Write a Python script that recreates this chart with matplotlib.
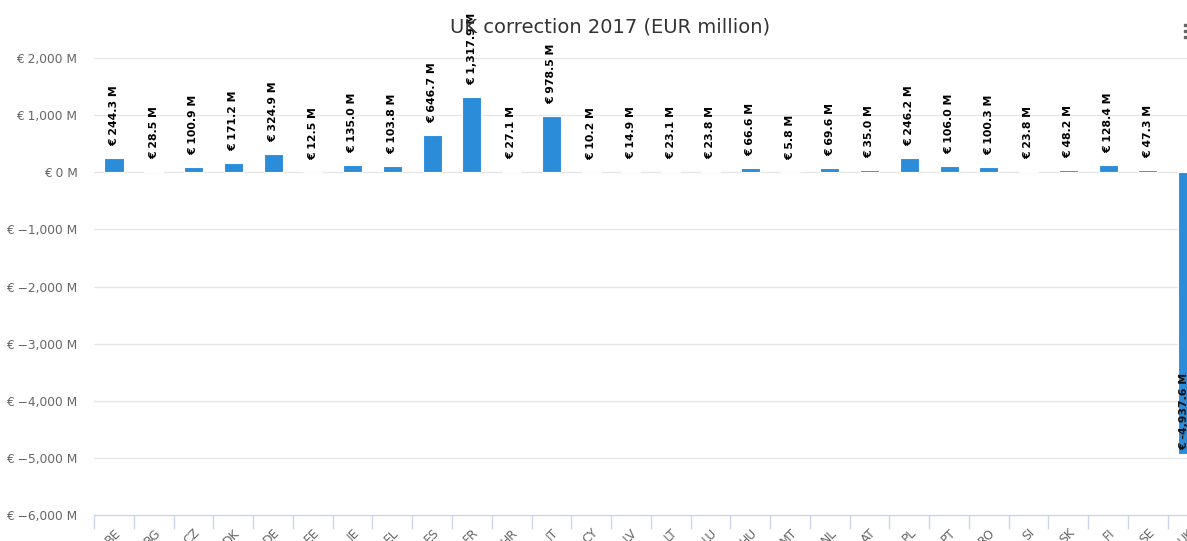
import matplotlib.pyplot as plt
from matplotlib.patches import Rectangle

# UK correction per member state, EUR million
countries = ['BE', 'BG', 'CZ', 'DK', 'DE', 'EE', 'IE', 'EL', 'ES', 'FR', 'HR', 'IT',
             'CY', 'LV', 'LT', 'LU', 'HU', 'MT', 'NL', 'AT', 'PL', 'PT', 'RO', 'SI',
             'SK', 'FI', 'SE', 'UK']
values = [244.3, 28.5, 100.9, 171.2, 324.9, 12.5, 135.0, 103.8, 646.7, 1317.9, 27.1, 978.5,
          10.2, 14.9, 23.1, 23.8, 66.6, 5.8, 69.6, 35.0, 246.2, 106.0, 100.3, 23.8,
          48.2, 128.4, 47.3, -4937.6]
y_ticks = [2000, 1000, 0, -1000, -2000, -3000, -4000, -5000, -6000]

bar_color = '#2b8cd9'
grid_color = '#e6e6e6'
axis_color = '#ccd6eb'
label_color = '#666666'

plt.rcParams['font.family'] = 'DejaVu Sans'

fig = plt.figure(figsize=(11.87, 5.41), dpi=100)
# plot area runs a little past the right edge, so the UK bar is cut off
ax = fig.add_axes([0.0793, 0.048, 0.938, 0.8447])

x = list(range(len(countries)))
ax.bar(x, values, width=0.48, color=bar_color, edgecolor='white', linewidth=0.8, zorder=3)

def money(v):
    s = f'{abs(v):,.1f}'
    return f'€ -{s} M' if v < 0 else f'€ {s} M'

for i, v in zip(x, values):
    if v >= 0:
        ax.annotate(money(v), (i, v), xytext=(0, 12), textcoords='offset pixels',
                    rotation=90, ha='center', va='bottom', fontsize=7.8,
                    fontweight='bold', color='black', zorder=4)
    else:
        ax.annotate(money(v), (i, v), xytext=(-3, 4), textcoords='offset pixels',
                    rotation=90, ha='center', va='bottom', fontsize=7.8,
                    fontweight='bold', color='#111111', zorder=4)

ax.set_ylim(-6000, 2000)
ax.set_xlim(-0.5, len(countries) - 0.5)

ax.set_yticks(y_ticks)
ax.set_yticklabels([f'€ {t:,} M'.replace('-', '−') for t in y_ticks],
                   fontsize=8.8, color=label_color)
ax.tick_params(axis='y', length=0, pad=12)
for t in y_ticks[:-1]:
    ax.axhline(t, color=grid_color, linewidth=1, zorder=1)

# boundary ticks between categories, labels at the centres
ax.set_xticks([i - 0.5 for i in range(len(countries) + 1)])
ax.set_xticklabels([])
ax.tick_params(axis='x', which='major', length=10, width=1, color=axis_color)
ax.set_xticks(x, minor=True)
ax.set_xticklabels(countries, minor=True, rotation=45, ha='right', va='top',
                   rotation_mode='anchor', fontsize=8.8, color=label_color)
ax.tick_params(axis='x', which='minor', length=0, pad=8)

for side in ['top', 'right', 'left']:
    ax.spines[side].set_visible(False)
ax.spines['bottom'].set_color(axis_color)
ax.spines['bottom'].set_linewidth(1)

fig.text(0.514, 0.95, 'UK correction 2017 (EUR million)', ha='center', va='center',
         fontsize=14, color='#333333')

# context menu button, mostly outside the frame
for yy in [24, 30, 36]:
    fig.add_artist(Rectangle((1184 / 1187, 1 - (yy + 2) / 541), 3 / 1187, 2.5 / 541,
                             transform=fig.transFigure, color='#666666'))

fig.savefig('out.png', dpi=100)
